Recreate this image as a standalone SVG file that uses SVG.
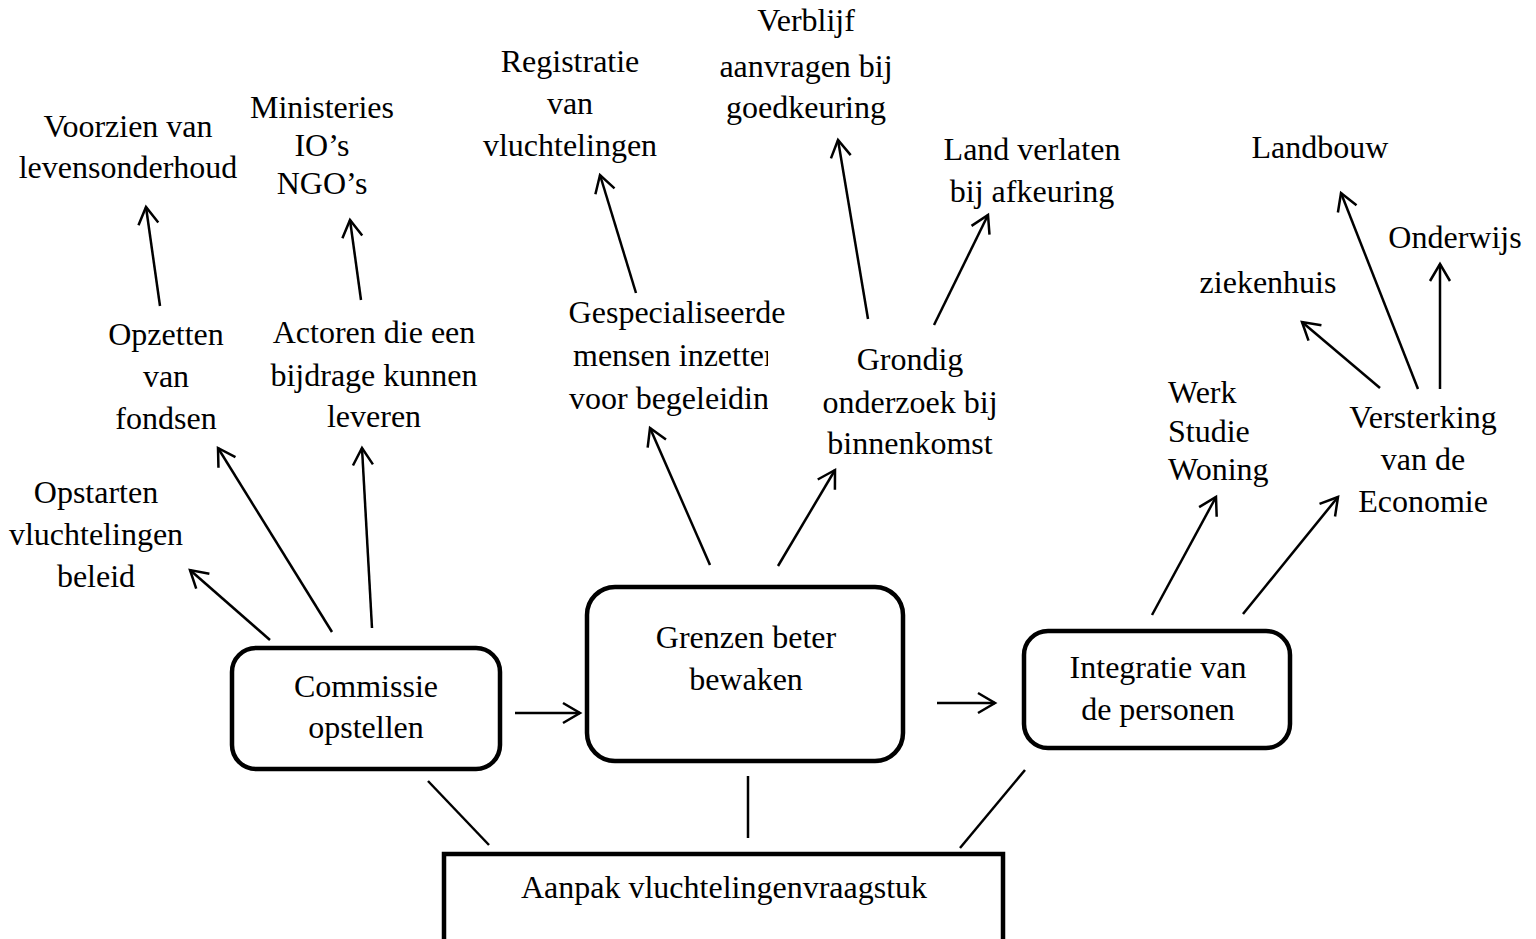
<svg xmlns="http://www.w3.org/2000/svg" width="1536" height="939" viewBox="0 0 1536 939">
<style>
text{font-family:"Liberation Serif","Times New Roman",serif;font-size:32px;fill:#000;text-anchor:middle}
.l{text-anchor:start}
.box{fill:#fff;stroke:#000;stroke-width:4.5}
.c line{stroke:#000;stroke-width:2.5}
.a{marker-end:url(#ah)}
</style>
<defs>
<marker id="ah" markerUnits="userSpaceOnUse" markerWidth="22" markerHeight="24" viewBox="-2 -2 22 24" refX="17" refY="10" orient="auto">
<path d="M0,0 L17,10 L0,20" fill="none" stroke="#000" stroke-width="2.5"/>
</marker>
<clipPath id="clipG"><rect x="540" y="330" width="228" height="100"/></clipPath>
</defs>
<rect width="1536" height="939" fill="#fff"/>
<g class="c" id="connectors">
<line x1="428" y1="781" x2="489" y2="845"/>
<line x1="748" y1="776" x2="748" y2="838"/>
<line x1="1025" y1="770" x2="960" y2="848"/>
<line class="a" x1="515" y1="713" x2="580" y2="713"/>
<line class="a" x1="937" y1="703" x2="995" y2="703"/>
<line class="a" x1="270" y1="640" x2="190" y2="570"/>
<line class="a" x1="332" y1="632" x2="218" y2="448"/>
<line class="a" x1="372" y1="628" x2="362" y2="448"/>
<line class="a" x1="160" y1="306" x2="146" y2="207"/>
<line class="a" x1="361" y1="300" x2="350" y2="220"/>
<line class="a" x1="710" y1="565" x2="650" y2="428"/>
<line class="a" x1="778" y1="566" x2="835" y2="470"/>
<line class="a" x1="636" y1="293" x2="600" y2="175"/>
<line class="a" x1="868" y1="319" x2="838" y2="140"/>
<line class="a" x1="934" y1="325" x2="988" y2="215"/>
<line class="a" x1="1152" y1="615" x2="1216" y2="497"/>
<line class="a" x1="1243" y1="614" x2="1338" y2="497"/>
<line class="a" x1="1380" y1="388" x2="1302" y2="322"/>
<line class="a" x1="1418" y1="389" x2="1341" y2="193"/>
<line class="a" x1="1440" y1="389" x2="1440" y2="264"/>
</g>
<g id="commissie">
<rect class="box" x="232" y="648" width="268" height="121" rx="24"/>
<text x="366" y="697">Commissie</text>
<text x="366" y="738">opstellen</text>
</g>
<g id="grenzen">
<rect class="box" x="587" y="587" width="316" height="174" rx="28"/>
<text x="746" y="648">Grenzen beter</text>
<text x="746" y="690">bewaken</text>
</g>
<g id="integratie">
<rect class="box" x="1024" y="631" width="266" height="117" rx="24"/>
<text x="1158" y="678">Integratie van</text>
<text x="1158" y="720">de personen</text>
</g>
<g id="aanpak">
<rect class="box" x="444" y="854" width="559" height="100"/>
<text x="724" y="898">Aanpak vluchtelingenvraagstuk</text>
</g>
<g id="voorzien">
<text x="128" y="137">Voorzien van</text>
<text x="128" y="178">levensonderhoud</text>
</g>
<g id="ministeries">
<text x="322" y="118">Ministeries</text>
<text x="322" y="156">IO’s</text>
<text x="322" y="194">NGO’s</text>
</g>
<g id="opzetten">
<text x="166" y="345">Opzetten</text>
<text x="166" y="387">van</text>
<text x="166" y="429">fondsen</text>
</g>
<g id="actoren">
<text x="374" y="343">Actoren die een</text>
<text x="374" y="386">bijdrage kunnen</text>
<text x="374" y="427">leveren</text>
</g>
<g id="opstarten">
<text x="96" y="503">Opstarten</text>
<text x="96" y="545">vluchtelingen</text>
<text x="96" y="587">beleid</text>
</g>
<g id="registratie">
<text x="570" y="72">Registratie</text>
<text x="570" y="114">van</text>
<text x="570" y="156">vluchtelingen</text>
</g>
<g id="verblijf">
<text x="806" y="31">Verblijf</text>
<text x="806" y="77">aanvragen bij</text>
<text x="806" y="118">goedkeuring</text>
</g>
<g id="landverlaten">
<text x="1032" y="160">Land verlaten</text>
<text x="1032" y="202">bij afkeuring</text>
</g>
<g id="gespecialiseerde">
<text x="677" y="323">Gespecialiseerde</text>
<g clip-path="url(#clipG)">
<text class="l" x="573" y="366">mensen inzetten</text>
<text class="l" x="569" y="409">voor begeleiding</text>
</g>
</g>
<g id="grondig">
<text x="910" y="370">Grondig</text>
<text x="910" y="413">onderzoek bij</text>
<text x="910" y="454">binnenkomst</text>
</g>
<g id="werk">
<text class="l" x="1168" y="403">Werk</text>
<text class="l" x="1168" y="442">Studie</text>
<text class="l" x="1168" y="480">Woning</text>
</g>
<g id="versterking">
<text x="1423" y="428">Versterking</text>
<text x="1423" y="470">van de</text>
<text x="1423" y="512">Economie</text>
</g>
<g id="ziekenhuis"><text x="1268" y="293">ziekenhuis</text></g>
<g id="landbouw"><text x="1320" y="158">Landbouw</text></g>
<g id="onderwijs"><text x="1455" y="248">Onderwijs</text></g>
</svg>
